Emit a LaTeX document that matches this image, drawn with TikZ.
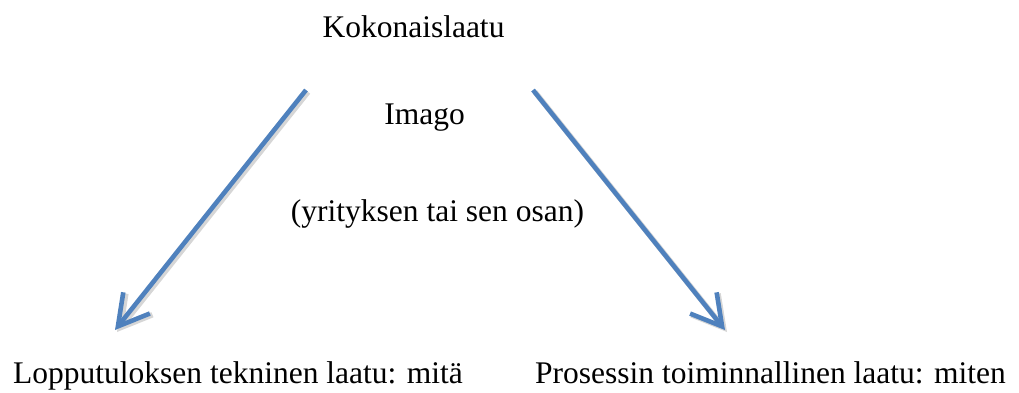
\documentclass[tikz,border=0pt]{standalone}
\usepackage{fontspec}
\setmainfont{Liberation Serif}
\newfontfamily\tnr{Liberation Serif}
\usetikzlibrary{arrows.meta}
\definecolor{arrowblue}{HTML}{4F81BD}
\tikzset{
  lbl/.style={inner sep=0pt, font=\tnr\fontsize{31.5}{36}\selectfont, text=black},
  flow/.style={draw=arrowblue, line width=4.6pt, -{Straight Barb[length=30pt,width=34pt,line width=4.6pt]}},
  flowshadow/.style={draw=black!16, line width=5.5pt, -{Straight Barb[length=30pt,width=34pt,line width=5.5pt]}}
}
\begin{document}
\begin{tikzpicture}[x=1pt,y=-1pt]
\useasboundingbox (0,0) rectangle (1019,392);
\node[lbl, anchor=base] (top) at (413.5,37) {Kokonaislaatu};
\node[lbl, anchor=base] (imago) at (424.5,124) {Imago};
\node[lbl, anchor=base] (sub) at (437.5,221) {(yrityksen tai sen osan)};
\node[lbl, anchor=base west] (left) at (13,383) {Lopputuloksen tekninen laatu: mitä};
\node[lbl, anchor=base west] (right) at (535,383) {Prosessin toiminnallinen laatu: miten};
\coordinate (ls) at (306,90);
\coordinate (le) at (115,330);
\coordinate (rs) at (533,90);
\coordinate (re) at (725,330);
\draw[flowshadow] ([shift={(2,2)}]ls) -- ([shift={(2,2)}]le);
\draw[flowshadow] ([shift={(2,2)}]rs) -- ([shift={(2,2)}]re);
\draw[flow] (ls) -- (le);
\draw[flow] (rs) -- (re);
\end{tikzpicture}
\end{document}
